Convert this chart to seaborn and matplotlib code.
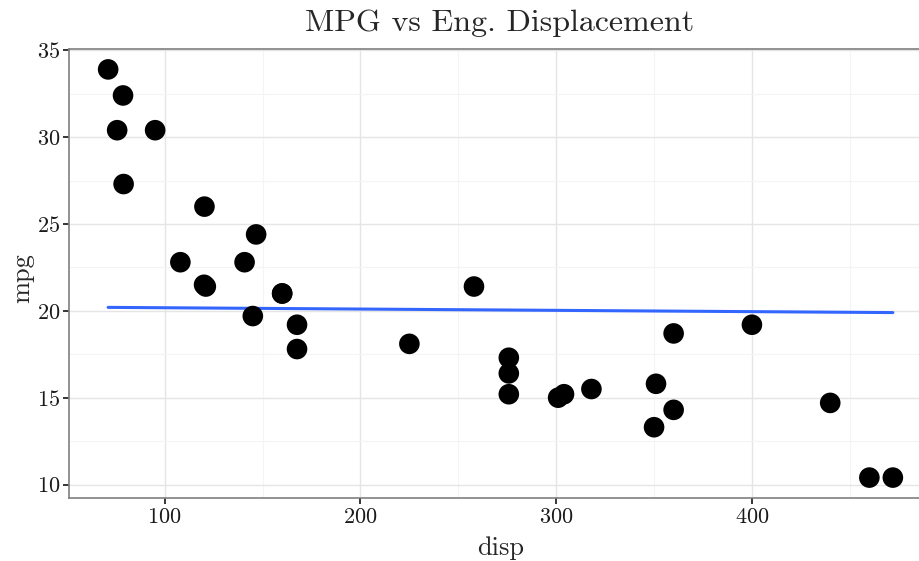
import matplotlib
matplotlib.use("Agg")
import matplotlib.pyplot as plt
import seaborn as sns
import pandas as pd
from matplotlib.ticker import MultipleLocator

disp = [160, 160, 108, 258, 360, 225, 360, 146.7, 140.8, 167.6, 167.6, 275.8, 275.8, 275.8,
        472, 460, 440, 78.7, 75.7, 71.1, 120.1, 318, 304, 350, 400, 79, 120.3, 95.1, 351,
        145, 301, 121]
mpg = [21.0, 21.0, 22.8, 21.4, 18.7, 18.1, 14.3, 24.4, 22.8, 19.2, 17.8, 16.4, 17.3, 15.2,
       10.4, 10.4, 14.7, 32.4, 30.4, 33.9, 21.5, 15.5, 15.2, 13.3, 19.2, 27.3, 26.0, 30.4, 15.8,
       19.7, 15.0, 21.4]
line_x = [71.1, 472]
line_y = [20.2, 19.9]

df = pd.DataFrame({"disp": disp, "mpg": mpg})
ldf = pd.DataFrame({"disp": line_x, "mpg": line_y})

sns.set_theme(style="white")
plt.rcParams["font.family"] = ["cmr10", "DejaVu Serif"]
plt.rcParams["axes.formatter.use_mathtext"] = True
plt.rcParams["mathtext.fontset"] = "cm"

fig = plt.figure(figsize=(9.2, 5.61), dpi=100)
ax = fig.add_axes([69/920, 1-498/561, (932-69)/920, (498-49)/561])

ax.set_xlim(51.1, 492.0)
ax.set_ylim(9.225, 35.075)
ax.xaxis.set_major_locator(MultipleLocator(100))
ax.xaxis.set_minor_locator(MultipleLocator(50))
ax.yaxis.set_major_locator(MultipleLocator(5))
ax.yaxis.set_minor_locator(MultipleLocator(2.5))
ax.grid(which="major", color="#E5E5E5", lw=1.0)
ax.grid(which="minor", color="#F4F4F4", lw=0.8)
ax.set_axisbelow(True)

sns.lineplot(data=ldf, x="disp", y="mpg", ax=ax, color="#3366FF", lw=2.2, zorder=2)
sns.scatterplot(data=df, x="disp", y="mpg", ax=ax, color="black", s=220, edgecolor="none",
                linewidth=0, zorder=3)

for s in ax.spines.values():
    s.set_color("#7F7F7F")
    s.set_linewidth(1.2)
ax.tick_params(which="major", direction="out", length=4.5, width=1.1, color="black",
               labelsize=16, labelcolor="#1a1a1a", bottom=True, left=True, pad=2)
ax.tick_params(which="minor", length=0)

ax.set_xlabel("disp", fontsize=19)
ax.set_ylabel("mpg", fontsize=19)
ax.xaxis.label.set_va("baseline")
ax.xaxis.set_label_coords(0.5, (498-555)/449)
ax.yaxis.label.set_va("center")
ax.yaxis.label.set_ha("center")
ax.yaxis.set_label_coords((22-69)/863, (498-278)/449)
fig.text(500/920, 1-31/561, "MPG vs Eng. Displacement", fontsize=23, ha="center",
         va="baseline")

fig.savefig("out.png", dpi=100)
